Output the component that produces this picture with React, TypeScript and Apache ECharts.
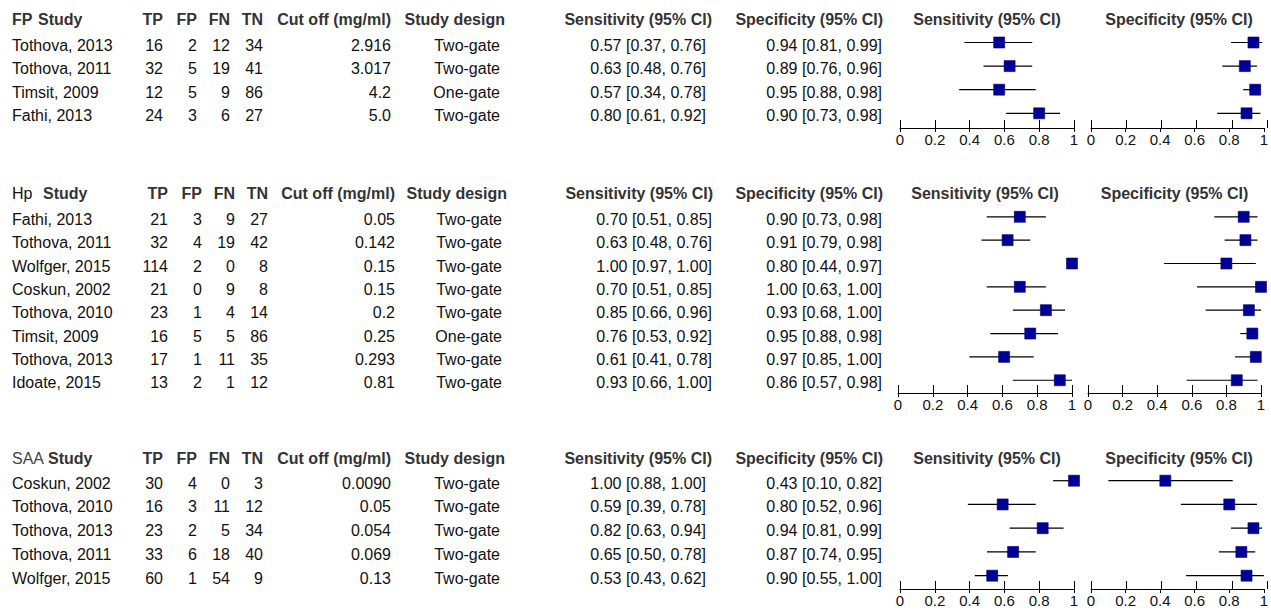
import React, { useEffect, useRef } from "react";
import * as echarts from "echarts";

const FONT = '"Liberation Sans", Arial, sans-serif';

// ---------- FP ----------
const fpStudies = ["Tothova, 2013", "Tothova, 2011", "Timsit, 2009", "Fathi, 2013"];
const fpTP = [16, 32, 12, 24];
const fpFP = [2, 5, 5, 3];
const fpFN = [12, 19, 9, 6];
const fpTN = [34, 41, 86, 27];
const fpCutoff = ["2.916", "3.017", "4.2", "5.0"];
const fpDesign = ["Two-gate", "Two-gate", "One-gate", "Two-gate"];
const fpSens = [0.57, 0.63, 0.57, 0.8];
const fpSensLo = [0.37, 0.48, 0.34, 0.61];
const fpSensHi = [0.76, 0.76, 0.78, 0.92];
const fpSpec = [0.94, 0.89, 0.95, 0.9];
const fpSpecLo = [0.81, 0.76, 0.88, 0.73];
const fpSpecHi = [0.99, 0.96, 0.98, 0.98];

// ---------- Hp ----------
const hpStudies = ["Fathi, 2013", "Tothova, 2011", "Wolfger, 2015", "Coskun, 2002", "Tothova, 2010", "Timsit, 2009", "Tothova, 2013", "Idoate, 2015"];
const hpTP = [21, 32, 114, 21, 23, 16, 17, 13];
const hpFP = [3, 4, 2, 0, 1, 5, 1, 2];
const hpFN = [9, 19, 0, 9, 4, 5, 11, 1];
const hpTN = [27, 42, 8, 8, 14, 86, 35, 12];
const hpCutoff = ["0.05", "0.142", "0.15", "0.15", "0.2", "0.25", "0.293", "0.81"];
const hpDesign = ["Two-gate", "Two-gate", "Two-gate", "Two-gate", "Two-gate", "One-gate", "Two-gate", "Two-gate"];
const hpSens = [0.7, 0.63, 1.0, 0.7, 0.85, 0.76, 0.61, 0.93];
const hpSensLo = [0.51, 0.48, 0.97, 0.51, 0.66, 0.53, 0.41, 0.66];
const hpSensHi = [0.85, 0.76, 1.0, 0.85, 0.96, 0.92, 0.78, 1.0];
const hpSpec = [0.9, 0.91, 0.8, 1.0, 0.93, 0.95, 0.97, 0.86];
const hpSpecLo = [0.73, 0.79, 0.44, 0.63, 0.68, 0.88, 0.85, 0.57];
const hpSpecHi = [0.98, 0.98, 0.97, 1.0, 1.0, 0.98, 1.0, 0.98];

// ---------- SAA ----------
const saaStudies = ["Coskun, 2002", "Tothova, 2010", "Tothova, 2013", "Tothova, 2011", "Wolfger, 2015"];
const saaTP = [30, 16, 23, 33, 60];
const saaFP = [4, 3, 2, 6, 1];
const saaFN = [0, 11, 5, 18, 54];
const saaTN = [3, 12, 34, 40, 9];
const saaCutoff = ["0.0090", "0.05", "0.054", "0.069", "0.13"];
const saaDesign = ["Two-gate", "Two-gate", "Two-gate", "Two-gate", "Two-gate"];
const saaSens = [1.0, 0.59, 0.82, 0.65, 0.53];
const saaSensLo = [0.88, 0.39, 0.63, 0.5, 0.43];
const saaSensHi = [1.0, 0.78, 0.94, 0.78, 0.62];
const saaSpec = [0.43, 0.8, 0.94, 0.87, 0.9];
const saaSpecLo = [0.1, 0.52, 0.81, 0.74, 0.55];
const saaSpecHi = [0.82, 0.96, 0.99, 0.95, 1.0];

// column header labels
const colHeaders = ["TP", "FP", "FN", "TN"];
const cutoffHeader = "Cut off (mg/ml)";
const designHeader = "Study design";
const sensHeader = "Sensitivity (95% CI)";
const specHeader = "Specificity (95% CI)";

const PANELS = [
  { label: "FP", labelBold: true, studies: fpStudies, tp: fpTP, fp: fpFP, fn: fpFN, tn: fpTN, cut: fpCutoff, design: fpDesign, sens: fpSens, sensLo: fpSensLo, sensHi: fpSensHi, spec: fpSpec, specLo: fpSpecLo, specHi: fpSpecHi },
  { label: "Hp", labelBold: false, studies: hpStudies, tp: hpTP, fp: hpFP, fn: hpFN, tn: hpTN, cut: hpCutoff, design: hpDesign, sens: hpSens, sensLo: hpSensLo, sensHi: hpSensHi, spec: hpSpec, specLo: hpSpecLo, specHi: hpSpecHi },
  { label: "SAA", labelBold: false, studies: saaStudies, tp: saaTP, fp: saaFP, fn: saaFN, tn: saaTN, cut: saaCutoff, design: saaDesign, sens: saaSens, sensLo: saaSensLo, sensHi: saaSensHi, spec: saaSpec, specLo: saaSpecLo, specHi: saaSpecHi },
];

// layout (pixels)
const COLS_A = { study: 12, studyH: 38, tp: 163, fp: 197, fn: 230, tn: 263, cut: 391, designH: 505, design: 500, sensH: 712, sens: 706, specH: 883, spec: 882 };
const COLS_B = { study: 12, studyH: 43, tp: 168, fp: 202, fn: 235, tn: 268, cut: 395, designH: 507, design: 502, sensH: 713, sens: 712, specH: 883, spec: 882 };
const LAYOUT = [
  { headerY: 19, firstY: 42.5, step: 23.6, axisY: 128, sensL: 900, sensW: 174, specL: 1091, specW: 176, cols: COLS_A, labelColor: "#333" },
  { headerY: 193, firstY: 216.8, step: 23.35, axisY: 393, sensL: 898, sensW: 174, specL: 1088, specW: 173, cols: COLS_B, labelColor: "#111" },
  { headerY: 458, firstY: 480.7, step: 23.75, axisY: 589, sensL: 900, sensW: 174, specL: 1091, specW: 176, cols: { ...COLS_A, studyH: 48 }, labelColor: "#444" },
];
const TXT_DY = 2.5;

const BODY = "#111";
const HEAD = "#333";
const MARK = "#000099";

function txt(x: number, y: number, text: string, align: string, bold: boolean, color: string) {
  return {
    type: "text",
    x,
    y,
    silent: true,
    style: {
      text,
      fill: color,
      fontSize: 16,
      fontFamily: FONT,
      fontWeight: bold ? "bold" : "normal",
      align,
      textAlign: align,
      verticalAlign: "middle",
      textVerticalAlign: "middle",
    },
  };
}

const fmt = (v: number, lo: number, hi: number) => `${v.toFixed(2)} [${lo.toFixed(2)}, ${hi.toFixed(2)}]`;

function ciRender(params: any, api: any) {
  const y = api.value(0);
  const v = api.value(1);
  const lo = api.value(2);
  const hi = api.value(3);
  const a = api.coord([lo, y]);
  const b = api.coord([hi, y]);
  const c = api.coord([v, y]);
  const s = 11;
  return {
    type: "group",
    children: [
      { type: "line", shape: { x1: a[0], y1: a[1], x2: b[0], y2: b[1] }, style: { stroke: "#000", lineWidth: 1.2 } },
      { type: "rect", shape: { x: c[0] - s / 2, y: c[1] - s / 2, width: s, height: s }, style: { fill: MARK, stroke: "#00006a", lineWidth: 0.6 } },
    ],
  };
}

function tableRender(p: any, cols: any) {
  return (params: any, api: any) => {
    const i = params.dataIndex;
    const y = api.coord([0, api.value(1)])[1] + TXT_DY;
    return {
      type: "group",
      children: [
        txt(cols.study, y, p.studies[i], "left", false, BODY),
        txt(cols.tp, y, String(p.tp[i]), "right", false, BODY),
        txt(cols.fp, y, String(p.fp[i]), "right", false, BODY),
        txt(cols.fn, y, String(p.fn[i]), "right", false, BODY),
        txt(cols.tn, y, String(p.tn[i]), "right", false, BODY),
        txt(cols.cut, y, p.cut[i], "right", false, BODY),
        txt(cols.design, y, p.design[i], "right", false, BODY),
        txt(cols.sens, y, fmt(p.sens[i], p.sensLo[i], p.sensHi[i]), "right", false, BODY),
        txt(cols.spec, y, fmt(p.spec[i], p.specLo[i], p.specHi[i]), "right", false, BODY),
      ],
    };
  };
}

function buildOption() {
  const grids: any[] = [];
  const xAxes: any[] = [];
  const yAxes: any[] = [];
  const series: any[] = [];
  const graphics: any[] = [];

  PANELS.forEach((p, pi) => {
    const L = LAYOUT[pi];
    const C = L.cols;
    const top = L.firstY - L.step / 2;
    const yMax = (L.axisY - L.firstY) / L.step;

    // headers
    const hy = L.headerY;
    graphics.push(txt(C.study, hy, p.label, "left", p.labelBold, L.labelColor));
    graphics.push(txt(C.studyH, hy, "Study", "left", true, HEAD));
    graphics.push(txt(C.tp, hy, colHeaders[0], "right", true, HEAD));
    graphics.push(txt(C.fp, hy, colHeaders[1], "right", true, HEAD));
    graphics.push(txt(C.fn, hy, colHeaders[2], "right", true, HEAD));
    graphics.push(txt(C.tn, hy, colHeaders[3], "right", true, HEAD));
    graphics.push(txt(C.cut, hy, cutoffHeader, "right", true, HEAD));
    graphics.push(txt(C.designH, hy, designHeader, "right", true, HEAD));
    graphics.push(txt(C.sensH, hy, sensHeader, "right", true, HEAD));
    graphics.push(txt(C.specH, hy, specHeader, "right", true, HEAD));
    graphics.push(txt(L.sensL + L.sensW / 2, hy, sensHeader, "center", true, HEAD));
    graphics.push(txt(L.specL + L.specW / 2, hy, specHeader, "center", true, HEAD));

    const plots = [
      { left: L.sensL, width: L.sensW, est: p.sens, lo: p.sensLo, hi: p.sensHi },
      { left: L.specL, width: L.specW, est: p.spec, lo: p.specLo, hi: p.specHi },
    ];
    plots.forEach((pl, k) => {
      // main grid
      const gi = grids.length;
      grids.push({ left: pl.left, top, width: pl.width, height: L.axisY - top });
      const xa = xAxes.length;
      xAxes.push({
        gridIndex: gi, type: "value", min: 0, max: 1, interval: 0.2, position: "bottom",
        axisLine: { show: true, onZero: false, lineStyle: { color: "#000", width: 1 } },
        axisTick: { show: true, inside: false, length: 4, lineStyle: { color: "#000", width: 1 } },
        axisLabel: { show: true, margin: 4, fontSize: 15, fontFamily: FONT, color: BODY },
        splitLine: { show: false },
      });
      const ya = yAxes.length;
      yAxes.push({ gridIndex: gi, type: "value", inverse: true, min: -0.5, max: yMax, show: false, splitLine: { show: false } });

      // helper grid whose bottom axis carries the upward tick halves
      const gi2 = grids.length;
      grids.push({ left: pl.left, top: L.axisY - 20, width: pl.width, height: 20 });
      xAxes.push({
        gridIndex: gi2, type: "value", min: 0, max: 1, interval: 0.2, position: "bottom",
        axisLine: { show: false, onZero: false },
        axisTick: { show: true, inside: true, length: 8, lineStyle: { color: "#000", width: 1 } },
        axisLabel: { show: false },
        splitLine: { show: false },
      });
      yAxes.push({ gridIndex: gi2, type: "value", min: 0, max: 1, show: false, splitLine: { show: false } });

      series.push({
        type: "custom",
        xAxisIndex: xa,
        yAxisIndex: ya,
        clip: false,
        silent: true,
        encode: { x: [1, 2, 3], y: 0 },
        data: pl.est.map((v: number, i: number) => [i, v, pl.lo[i], pl.hi[i]]),
        renderItem: ciRender,
      });
      if (k === 0) {
        series.push({
          type: "custom",
          xAxisIndex: xa,
          yAxisIndex: ya,
          clip: false,
          silent: true,
          encode: { x: 0, y: 1 },
          data: p.studies.map((_s: string, i: number) => [0, i]),
          renderItem: tableRender(p, C),
        });
      }
    });
  });

  return {
    animation: false,
    backgroundColor: "#fff",
    grid: grids,
    xAxis: xAxes,
    yAxis: yAxes,
    series,
    graphic: graphics,
  };
}

export default function App() {
  const ref = useRef<HTMLDivElement>(null);
  useEffect(() => {
    const chart = echarts.init(ref.current!, null, { renderer: "svg", width: 1271, height: 611 });
    chart.setOption(buildOption() as any);
    return () => chart.dispose();
  }, []);
  return <div ref={ref} style={{ position: "absolute", left: 0, top: 0, width: 1271, height: 611, background: "#fff" }} />;
}
